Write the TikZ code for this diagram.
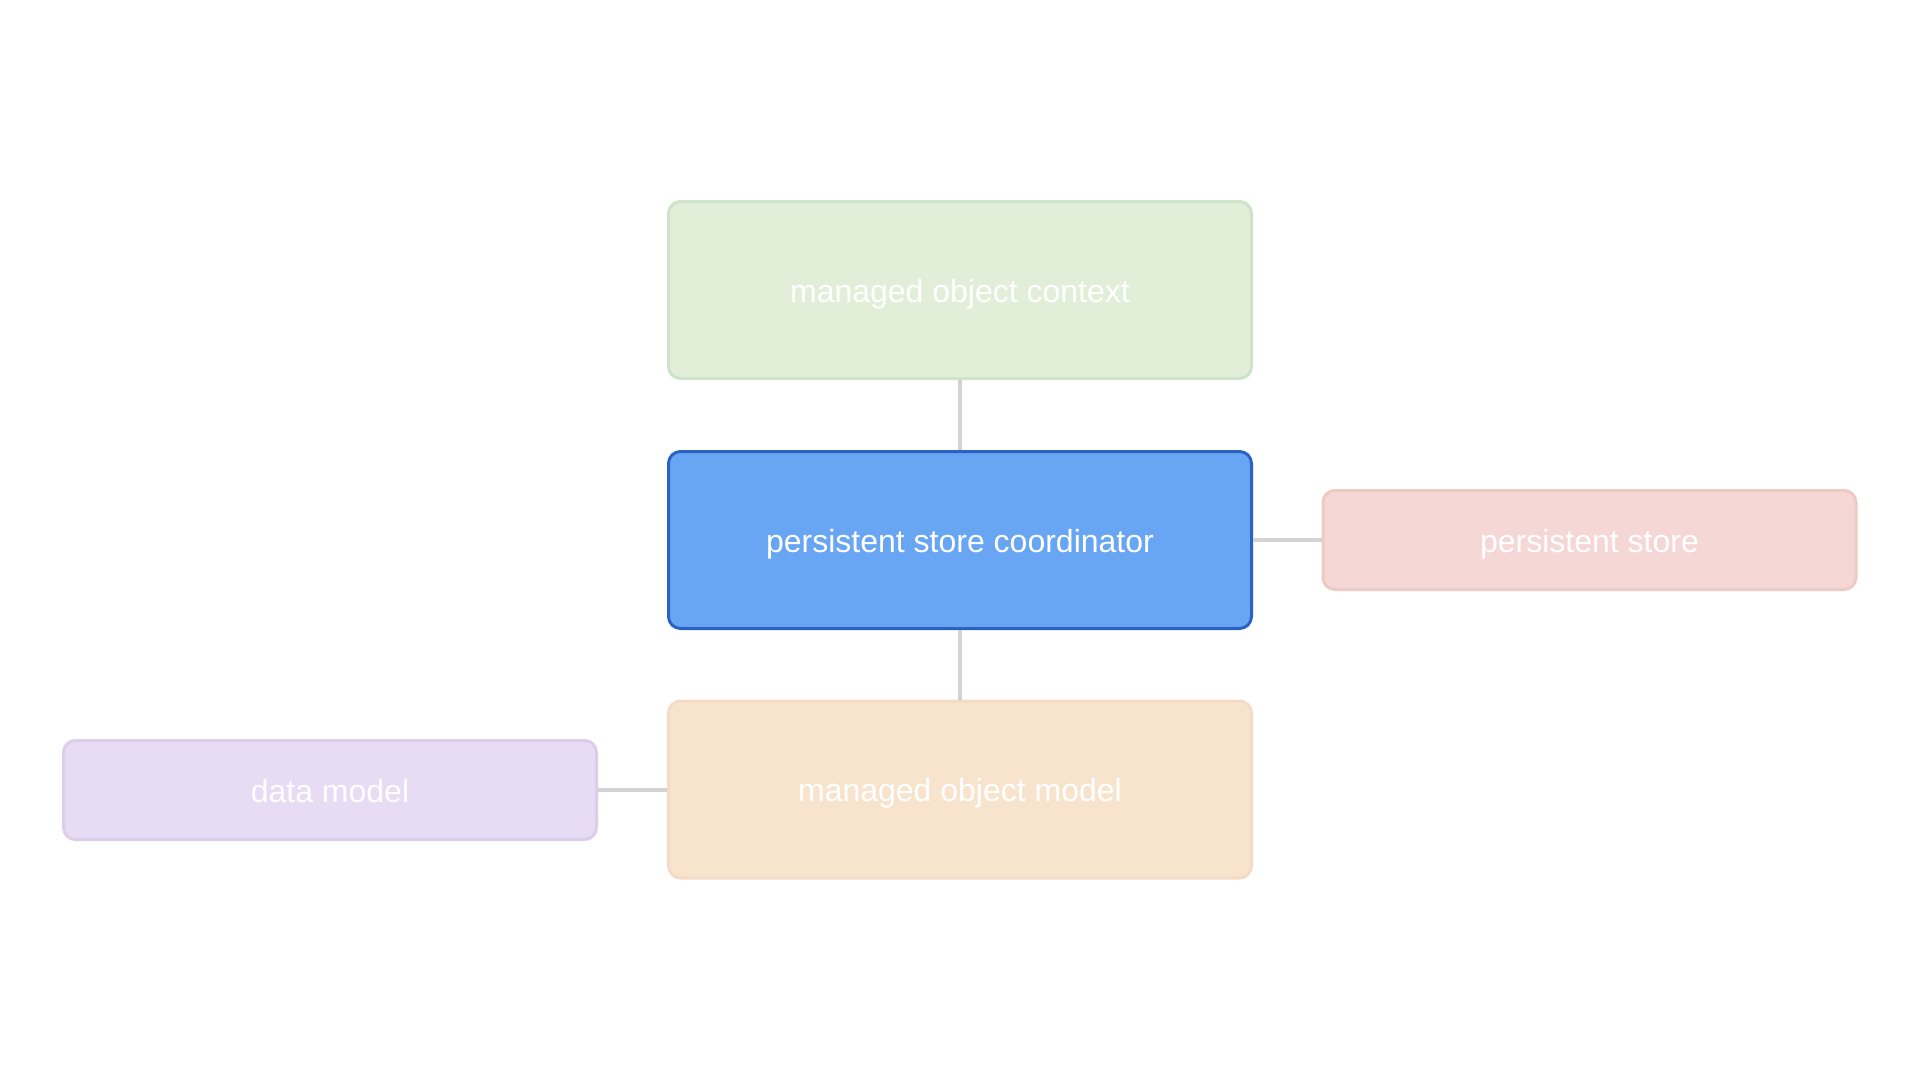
\documentclass[tikz,border=0pt]{standalone}
\usepackage{fontspec}
\setmainfont{Liberation Sans}
\definecolor{gfill}{HTML}{E1EFD8}\definecolor{gline}{HTML}{CFE3CB}
\definecolor{bfill}{HTML}{68A5F3}\definecolor{bline}{HTML}{2C62C2}
\definecolor{pfill}{HTML}{F5D8D6}\definecolor{pline}{HTML}{EECAC4}
\definecolor{ofill}{HTML}{F8E4CD}\definecolor{oline}{HTML}{F4DBC6}
\definecolor{vfill}{HTML}{E8DBF4}\definecolor{vline}{HTML}{DDCDE8}
\definecolor{conn}{HTML}{D3D3D3}
\newcommand{\boxtext}[1]{\raisebox{-4pt}[23.5pt][6.7pt]{#1}}
\begin{document}
\begin{tikzpicture}[x=1pt,y=-1pt,
  box/.style={rectangle,rounded corners=12pt,line width=3pt,text=white,
    font=\fontsize{32}{36}\selectfont,inner sep=0pt},
  big/.style={box,minimum width=583pt,minimum height=177pt},
  small/.style={box,minimum width=533pt,minimum height=99pt},
  link/.style={draw=conn,line width=3.5pt}]
\useasboundingbox[fill=white] (0,0) rectangle (1920,1080);
\node[big,fill=gfill,draw=gline] (moc) at (960,290) {\boxtext{managed object context}};
\node[big,fill=bfill,draw=bline] (psc) at (960,540) {\boxtext{persistent store coordinator}};
\node[big,fill=ofill,draw=oline] (mom) at (960,789.5) {\boxtext{managed object model}};
\node[small,fill=pfill,draw=pline] (ps) at (1589.5,540) {\boxtext{persistent store}};
\node[small,fill=vfill,draw=vline] (dm) at (330,790) {\boxtext{data model}};
\draw[link] (moc.south) -- (psc.north);
\draw[link] (psc.south) -- (mom.north);
\draw[link] (psc.east) -- (ps.west);
\draw[link] (dm.east) -- (dm.east -| mom.west);
\end{tikzpicture}
\end{document}
